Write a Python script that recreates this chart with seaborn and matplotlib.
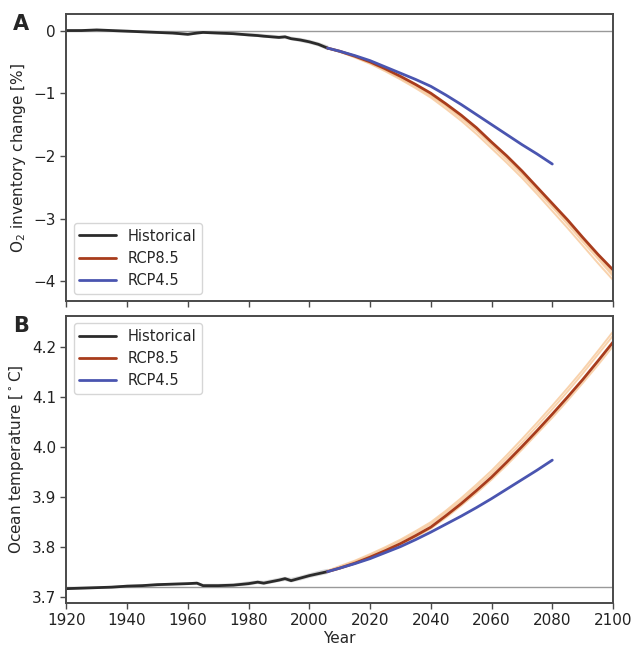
import pandas as pd
import matplotlib.pyplot as plt
import seaborn as sns

# --- Data ---
hist_years = [1920, 1925, 1930, 1935, 1940, 1945, 1950, 1955, 1960, 1963, 1965, 1970,
              1975, 1980, 1983, 1985, 1990, 1992, 1994, 1997, 2000, 2003, 2006]
hist_o2 = [0.0, 0.0, 0.01, 0.0, -0.01, -0.02, -0.03, -0.04, -0.06, -0.04, -0.03, -0.04,
           -0.05, -0.07, -0.08, -0.09, -0.11, -0.1, -0.13, -0.15, -0.18, -0.22, -0.28]
hist_temp = [3.716, 3.717, 3.718, 3.719, 3.721, 3.722, 3.724, 3.725, 3.726, 3.727, 3.722, 3.722,
             3.723, 3.726, 3.729, 3.727, 3.733, 3.736, 3.732, 3.737, 3.742, 3.746, 3.750]
# lighter historical ensemble members
hist_ens_o2 = [
    [0.0, 0.01, 0.01, 0.0, 0.0, -0.01, -0.02, -0.03, -0.05, -0.04, -0.03, -0.03,
     -0.04, -0.05, -0.06, -0.07, -0.09, -0.09, -0.11, -0.13, -0.16, -0.2, -0.25],
    [0.0, -0.01, 0.0, -0.01, -0.02, -0.03, -0.04, -0.05, -0.07, -0.05, -0.04, -0.05,
     -0.06, -0.08, -0.09, -0.1, -0.12, -0.12, -0.14, -0.17, -0.2, -0.24, -0.3],
]
hist_ens_temp = [
    [3.716, 3.717, 3.718, 3.720, 3.722, 3.723, 3.725, 3.726, 3.727, 3.728, 3.724, 3.724,
     3.725, 3.729, 3.731, 3.730, 3.736, 3.738, 3.736, 3.740, 3.745, 3.750, 3.754],
    [3.716, 3.716, 3.717, 3.718, 3.720, 3.721, 3.722, 3.724, 3.725, 3.725, 3.721, 3.721,
     3.722, 3.724, 3.727, 3.725, 3.731, 3.733, 3.730, 3.734, 3.739, 3.743, 3.747],
]

rcp85_years = [2006, 2010, 2015, 2020, 2025, 2030, 2035, 2040, 2045, 2050, 2055, 2060,
               2065, 2070, 2075, 2080, 2085, 2090, 2095, 2100]
rcp85_o2 = [-0.28, -0.33, -0.41, -0.5, -0.61, -0.73, -0.86, -1.0, -1.17, -1.35, -1.55, -1.78,
            -2.0, -2.24, -2.5, -2.76, -3.02, -3.3, -3.57, -3.82]
rcp85_temp = [3.750, 3.757, 3.767, 3.779, 3.792, 3.806, 3.822, 3.839, 3.862, 3.886, 3.912, 3.939,
              3.969, 4.000, 4.032, 4.065, 4.099, 4.134, 4.171, 4.209]
# lighter RCP8.5 ensemble members
rcp85_ens_o2 = [
    [-0.28, -0.34, -0.43, -0.53, -0.65, -0.78, -0.92, -1.07, -1.25, -1.44, -1.65, -1.88,
     -2.11, -2.35, -2.61, -2.88, -3.15, -3.43, -3.71, -3.98],
    [-0.28, -0.34, -0.42, -0.52, -0.63, -0.76, -0.89, -1.04, -1.21, -1.4, -1.6, -1.83,
     -2.06, -2.3, -2.56, -2.82, -3.09, -3.37, -3.64, -3.92],
    [-0.28, -0.33, -0.41, -0.51, -0.62, -0.74, -0.87, -1.02, -1.19, -1.37, -1.57, -1.8,
     -2.02, -2.27, -2.52, -2.79, -3.05, -3.33, -3.6, -3.88],
]
rcp85_ens_temp = [
    [3.752, 3.761, 3.772, 3.785, 3.799, 3.814, 3.831, 3.849, 3.872, 3.897, 3.924, 3.952,
     3.983, 4.015, 4.048, 4.082, 4.117, 4.153, 4.191, 4.230],
    [3.751, 3.759, 3.770, 3.782, 3.796, 3.811, 3.827, 3.845, 3.868, 3.892, 3.919, 3.946,
     3.977, 4.008, 4.041, 4.075, 4.110, 4.146, 4.184, 4.222],
    [3.750, 3.756, 3.766, 3.777, 3.790, 3.804, 3.819, 3.836, 3.858, 3.882, 3.907, 3.934,
     3.963, 3.994, 4.026, 4.058, 4.092, 4.127, 4.163, 4.201],
]

rcp45_years = [2006, 2010, 2015, 2020, 2025, 2030, 2035, 2040, 2045, 2050, 2055, 2060,
               2065, 2070, 2075, 2080]
rcp45_o2 = [-0.28, -0.33, -0.4, -0.48, -0.58, -0.68, -0.78, -0.89, -1.03, -1.18, -1.34, -1.5,
            -1.66, -1.82, -1.97, -2.13]
rcp45_temp = [3.750, 3.757, 3.766, 3.776, 3.788, 3.800, 3.814, 3.829, 3.845, 3.861, 3.878, 3.896,
              3.915, 3.934, 3.953, 3.973]

years_ticks = [1920, 1940, 1960, 1980, 2000, 2020, 2040, 2060, 2080, 2100]

c_hist = "#2b2b2b"
c_85 = "#a83c1c"
c_45 = "#4a55b0"
c_ens85 = "#f6c08a"
c_enshist = "#cfcfcf"

sns.set_style("ticks")
plt.rcParams["font.family"] = ["DejaVu Sans"]
plt.rcParams["axes.edgecolor"] = "#4a4a4a"
plt.rcParams["xtick.color"] = "#4a4a4a"
plt.rcParams["ytick.color"] = "#4a4a4a"
plt.rcParams["xtick.labelcolor"] = "#222222"
plt.rcParams["ytick.labelcolor"] = "#222222"

fig, axes = plt.subplots(2, 1, figsize=(6.32, 6.48), dpi=100, sharex=True)
fig.subplots_adjust(left=0.105, right=0.97, top=0.978, bottom=0.07, hspace=0.05)


def draw(ax, hist, hist_ens, r85, r85_ens, r45, baseline):
    ax.axhline(baseline, color="#999999", lw=1.0, zorder=0)
    for m in hist_ens:
        sns.lineplot(x=hist_years, y=m, ax=ax, color=c_enshist, lw=1.2, alpha=0.8)
    for m in r85_ens:
        sns.lineplot(x=rcp85_years, y=m, ax=ax, color=c_ens85, lw=1.4, alpha=0.7)
    sns.lineplot(x=hist_years, y=hist, ax=ax, color=c_hist, lw=2, label="Historical")
    sns.lineplot(x=rcp85_years, y=r85, ax=ax, color=c_85, lw=2, label="RCP8.5")
    sns.lineplot(x=rcp45_years, y=r45, ax=ax, color=c_45, lw=2, label="RCP4.5")
    ax.set_xlim(1920, 2100)
    ax.set_xticks(years_ticks)
    ax.tick_params(labelsize=11, length=4, width=1)
    for s in ax.spines.values():
        s.set_linewidth(1.4)


axA, axB = axes
draw(axA, hist_o2, hist_ens_o2, rcp85_o2, rcp85_ens_o2, rcp45_o2, 0.0)
axA.set_ylim(-4.32, 0.26)
axA.set_yticks([0, -1, -2, -3, -4])
axA.set_ylabel("O$_2$ inventory change [%]", fontsize=11)
axA.legend(loc="lower left", fontsize=10.5, frameon=True, handlelength=2.5)

draw(axB, hist_temp, hist_ens_temp, rcp85_temp, rcp85_ens_temp, rcp45_temp, 3.72)
axB.set_ylim(3.688, 4.262)
axB.set_yticks([3.7, 3.8, 3.9, 4.0, 4.1, 4.2])
axB.set_ylabel("Ocean temperature [$^\\circ$C]", fontsize=11)
axB.set_xlabel("Year", fontsize=11, labelpad=2)
axB.legend(loc="upper left", fontsize=10.5, frameon=True, handlelength=2.5)

axA.text(-0.098, 1.0, "A", transform=axA.transAxes, fontsize=15, fontweight="bold", va="top")
axB.text(-0.098, 1.0, "B", transform=axB.transAxes, fontsize=15, fontweight="bold", va="top")

plt.savefig("out.png", dpi=100)
plt.close()
